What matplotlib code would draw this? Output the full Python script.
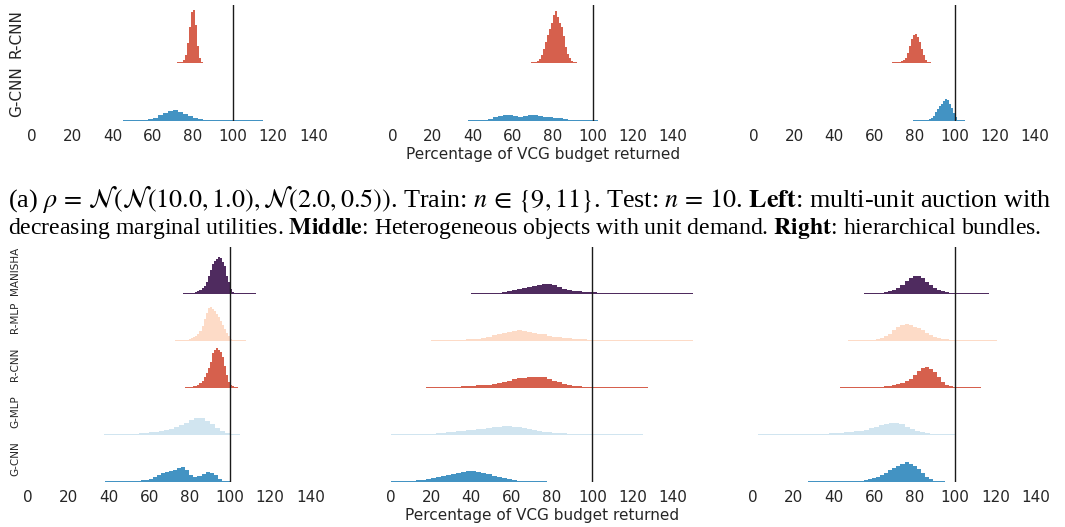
import numpy as np
import matplotlib
matplotlib.use("Agg")
import matplotlib.pyplot as plt

# ---------------- data (histogram heights, arbitrary density units) ----------------
# each entry: (first bin edge, bin width, bar heights)
methods_top = ["G-CNN", "R-CNN"]
methods_bottom = ["G-CNN", "G-MLP", "R-CNN", "R-MLP", "MANISHA"]
x_ticks = [0, 20, 40, 60, 80, 100, 120, 140]
vcg_reference = 100

# (a) top row
a_left_gcnn = (45.0, 2.5, [1.0, 1.0, 1.0, 1.0, 1.2, 2.0, 3.5, 6, 8.5, 10.5, 11.5, 9.5, 7.5, 5.5,
                           3.5, 2.2, 1.4, 1.1, 1.0, 1.0, 1.0, 1.0, 1.0, 1.0, 1.0, 1.0, 1.0, 1.0])
a_left_rcnn = (72.0, 1.0, [1.0, 1.0, 1.5, 3, 8, 20, 36, 51, 53, 38, 17, 5, 1.5])
a_mid_gcnn = (37.5, 2.5, [1.0, 1.0, 1.0, 1.3, 2.2, 3.6, 4.8, 5.6, 5.7, 5.0, 4.5, 4.7, 5.6, 5.8,
                          5.0, 4.3, 3.8, 3.5, 2.6, 1.6, 1.2, 1.0, 1.0, 1.0, 1.0, 1.0])
a_mid_rcnn = (69.0, 1.0, [1.0, 1.0, 1.2, 2, 4, 8, 14, 21, 28, 34, 40, 48, 52, 46, 40, 36, 27, 16,
                          9, 5, 2.5, 1.2, 1.0])
a_right_gcnn = (79.0, 1.0, [1.0, 1.0, 1.0, 1.0, 1.0, 1.0, 1.0, 1.2, 2, 3, 5, 9, 12, 15, 17, 20,
                            22, 21, 17, 13, 8, 4, 1.5, 1.0, 1.0, 1.0])
a_right_rcnn = (69.0, 1.0, [1.0, 1.0, 1.0, 1.2, 2, 3, 5, 10, 17, 24, 28, 29, 26, 21, 14, 8, 3.5,
                            1.5, 1.0])

# (b) bottom row
b_left_gcnn = (38.0, 2.0, [1.0, 1.0, 1.0, 1.0, 1.0, 1.0, 1.0, 1.0, 1.0, 1.3, 1.8, 3, 5, 6.8, 8.5,
                           10, 11, 11.8, 13.5, 14.4, 12, 7, 5, 6, 8, 10, 8.5, 6.5, 3, 1.2, 1.0])
b_left_gmlp = (37.5, 2.5, [1.0, 1.0, 1.0, 1.0, 1.0, 1.0, 1.2, 1.5, 2.0, 2.6, 3.2, 4.0, 5.0, 6.2,
                           7.6, 9.5, 12, 14.5, 16.5, 17, 14, 11, 7, 4, 2, 1.2, 1.0])
b_left_rcnn = (78.0, 1.0, [1.0, 1.0, 1.0, 1.0, 1.5, 2.2, 3.2, 4.5, 7, 11, 15, 20, 26, 35, 38, 40,
                           38, 36, 31, 22, 13, 6, 2.5, 1.5, 1.2, 1.0])
b_left_rmlp = (73.0, 1.0, [1.0, 1.0, 1.0, 1.0, 1.0, 1.2, 1.5, 2, 2.8, 3.8, 5, 7, 10, 15, 22, 28,
                           33, 34, 32, 30, 27, 24, 20, 16, 12, 8, 5, 2.5, 1.5, 1.0, 1.0, 1.0, 1.0,
                           1.0, 1.0])
b_left_manisha = (77.0, 1.0, [1.0, 1.0, 1.0, 1.0, 1.0, 1.3, 2, 3, 4.5, 6, 8, 12, 18, 24, 30, 33,
                              35, 37, 36, 32, 28, 18, 12, 5, 2.5, 1.3, 1.0, 1.0, 1.0, 1.0, 1.0,
                              1.0, 1.0, 1.0, 1.0, 1.0])

b_mid_gcnn = (0.0, 2.5, [1.0, 1.0, 1.0, 1.0, 1.1, 1.5, 2.0, 2.7, 3.5, 4.5, 5.6, 6.6, 7.8, 9.0,
                         10.0, 10.7, 10.5, 9.8, 9.0, 7.5, 5.8, 4.5, 3.3, 2.4, 1.6, 1.2, 1.0, 1.0,
                         1.0, 1.0, 1.0])
b_mid_gmlp = (0.0, 2.5, [1.0, 1.0, 1.0, 1.0, 1.0, 1.0, 1.0, 1.1, 1.3, 1.6, 2.0, 2.5, 3.0, 3.5,
                         4.0, 4.5, 5.2, 5.7, 6.3, 7.0, 7.6, 8.2, 8.7, 8.5, 8.0, 7.5, 7.0, 6.0, 5.0,
                         4.0, 3.2, 2.6, 2.1, 1.7, 1.4, 1.2, 1.1, 1.0, 1.0, 1.0, 1.0, 1.0, 1.0,
                         1.0, 1.0, 1.0, 1.0, 1.0, 1.0, 1.0])
b_mid_rcnn = (17.5, 2.5, [1.0, 1.0, 1.0, 1.0, 1.0, 1.1, 1.2, 1.5, 1.8, 2.2, 2.6, 3.0, 3.4, 4.0,
                          4.7, 5.5, 7.0, 8.5, 9.5, 10.2, 10.7, 10.5, 10.8, 11, 9, 7, 5.5, 4.2,
                          3.2, 2.4, 1.8, 1.4, 1.2, 1.1, 1.0, 1.0, 1.0, 1.0, 1.0, 1.0, 1.0, 1.0,
                          1.0, 1.0])
b_mid_rmlp = (20.0, 2.5, [1.0, 1.0, 1.0, 1.0, 1.0, 1.0, 1.2, 1.6, 2.0, 2.5, 3.2, 4.2, 6.0, 7.0,
                          8.0, 9.0, 10, 10.7, 10.2, 9.3, 8.3, 7.3, 6.8, 5.5, 4.3, 3.6, 3.0, 2.6,
                          2.3, 2.0, 1.7, 1.5, 1.3, 1.2, 1.1, 1.0, 1.0, 1.0, 1.0, 1.0, 1.0, 1.0,
                          1.0, 1.0, 1.0, 1.0, 1.0, 1.0, 1.0, 1.0, 1.0, 1.0])
b_mid_manisha = (40.0, 2.5, [1.0, 1.0, 1.0, 1.0, 1.2, 1.5, 2.0, 2.8, 3.8, 4.8, 5.8, 7.0, 8.0, 9.2,
                             10, 9.8, 8.8, 7.0, 5.6, 4.5, 3.6, 3.0, 2.5, 2.1, 1.8, 1.6, 1.4, 1.3,
                             1.2, 1.1, 1.0, 1.0, 1.0, 1.0, 1.0, 1.0, 1.0, 1.0, 1.0, 1.0, 1.0, 1.0,
                             1.0, 1.0])

b_right_gcnn = (27.0, 2.0, [1.0, 1.0, 1.0, 1.0, 1.0, 1.0, 1.0, 1.0, 1.0, 1.0, 1.0, 1.0, 1.0, 1.2,
                            1.8, 2.6, 3.6, 5.0, 6.8, 9.0, 11.5, 14, 15.5, 17.5, 19.3, 18, 16, 13,
                            9, 5, 2.6, 1.2, 1.0, 1.0])
b_right_gmlp = (2.5, 2.5, [1.0, 1.0, 1.0, 1.0, 1.0, 1.0, 1.0, 1.0, 1.0, 1.0, 1.0, 1.0, 1.1, 1.2,
                           1.4, 1.7, 2.0, 2.4, 2.9, 3.5, 4.3, 5.3, 6.4, 7.8, 9.4, 11, 12, 11.6,
                           10.5, 8.0, 5.5, 4.0, 2.6, 1.6, 1.2, 1.0, 1.0, 1.0, 1.0])
b_right_rcnn = (43.0, 2.0, [1.0, 1.0, 1.0, 1.0, 1.0, 1.0, 1.0, 1.0, 1.0, 1.1, 1.3, 1.6, 2.0, 2.7,
                            3.6, 5.0, 6.5, 8.5, 13, 17.3, 20, 21, 19, 15.5, 10.5, 6, 3, 1.8, 1.2,
                            1.0, 1.0, 1.0, 1.0, 1.0, 1.0])
b_right_rmlp = (47.0, 2.0, [1.0, 1.0, 1.0, 1.0, 1.0, 1.0, 1.5, 2.3, 3.5, 5.0, 7.5, 11, 14, 16,
                            16.7, 16, 14.5, 13, 11, 8, 6, 4.3, 3.2, 2.2, 1.6, 1.2, 1.0, 1.0, 1.0,
                            1.0, 1.0, 1.0, 1.0, 1.0, 1.0, 1.0, 1.0])
b_right_manisha = (55.0, 2.0, [1.0, 1.0, 1.0, 1.0, 1.2, 1.8, 2.8, 4.2, 6.5, 9.5, 13, 16, 18, 18.3,
                               16, 12.5, 9, 6, 4.3, 3.2, 2.2, 1.5, 1.2, 1.0, 1.0, 1.0, 1.0, 1.0,
                               1.0, 1.0, 1.0])

caption_line1 = (r"(a) $\rho\,=\,\mathcal{N}(\mathcal{N}(10.0, 1.0), \mathcal{N}(2.0, 0.5))$. "
                 r"Train: $n\,\in\,\{9, 11\}$. Test: $n\,=\,10$. $\mathbf{Left}$: multi-unit auction with")
caption_line2 = (r"decreasing marginal utilities. $\mathbf{Middle}$: Heterogeneous objects with unit "
                 r"demand. $\mathbf{Right}$: hierarchical bundles.")
x_label = "Percentage of VCG budget returned"

# ---------------- styling ----------------
colors = {"G-CNN": "#4393c3", "G-MLP": "#d1e5f0", "R-CNN": "#d6604d",
          "R-MLP": "#fddbc7", "MANISHA": "#4f2b5f"}
TXT = "#262626"
W, H = 1065, 527
plt.rcParams["mathtext.fontset"] = "stix"
fig = plt.figure(figsize=(W / 100, H / 100), dpi=100)


def make_ax(left_px, top_px, bottom_px, scale, tick_pad):
    width_px = 150 * scale
    ax = fig.add_axes([left_px / W, 1 - bottom_px / H, width_px / W, (bottom_px - top_px) / H])
    ax.set_xlim(0, 150)
    for s in ax.spines.values():
        s.set_visible(False)
    ax.set_xticks(x_ticks)
    ax.set_xticklabels([str(t) for t in x_ticks])
    ax.tick_params(axis="x", length=0, pad=tick_pad, labelsize=11, labelcolor=TXT)
    ax.tick_params(axis="y", length=0)
    ax.patch.set_alpha(0)
    return ax


def ridge(ax, dists, methods, row_h, label_size, show_labels):
    for i, (m, (start, width, h)) in enumerate(zip(methods, dists)):
        h = np.asarray(h, float)
        edges = start + width * np.arange(len(h) + 1)
        off = i * row_h
        ax.stairs(h + off, edges, baseline=off, fill=True, color=colors[m], lw=0, zorder=2)
    ax.set_ylim(0, row_h * len(methods))
    ax.axvline(vcg_reference, color="#1a1a1a", lw=1.0, zorder=5)
    if show_labels:
        ax.set_yticks([(i + 0.5) * row_h for i in range(len(methods))])
        ax.set_yticklabels(methods, rotation=90, va="center", fontsize=label_size, color=TXT)
    else:
        ax.set_yticks([])


ROW_TOP = 58.0
ROW_BOT = 46.9
top_specs = [(32.3, 2.007, [a_left_gcnn, a_left_rcnn]),
             (393.0, 2.0, [a_mid_gcnn, a_mid_rcnn]),
             (754.0, 2.007, [a_right_gcnn, a_right_rcnn])]
bot_specs = [(28.3, 2.014, [b_left_gcnn, b_left_gmlp, b_left_rcnn, b_left_rmlp, b_left_manisha]),
             (390.7, 2.016, [b_mid_gcnn, b_mid_gmlp, b_mid_rcnn, b_mid_rmlp, b_mid_manisha]),
             (753.0, 2.02, [b_right_gcnn, b_right_gmlp, b_right_rcnn, b_right_rmlp, b_right_manisha])]

for k, (lp, sc, d) in enumerate(top_specs):
    ax = make_ax(lp, 121 - 2 * ROW_TOP, 121, sc, 6)
    ridge(ax, d, methods_top, ROW_TOP, 11, k == 0)
    if k == 0:
        ax.tick_params(axis="y", pad=6)
    if k == 1:
        ax.set_xlabel(x_label, fontsize=11, color=TXT, labelpad=2)

for k, (lp, sc, d) in enumerate(bot_specs):
    ax = make_ax(lp, 481.7 - 5 * ROW_BOT, 481.7, sc, 6)
    ridge(ax, d, methods_bottom, ROW_BOT, 7.5, k == 0)
    if k == 0:
        ax.tick_params(axis="y", pad=6)
    if k == 1:
        ax.set_xlabel(x_label, fontsize=11, color=TXT, labelpad=2)

# caption, each line fitted to its width in the reference
fs = 15.5
t1 = fig.text(8 / W, 1 - 207 / H, caption_line1, fontsize=fs, family="Liberation Serif",
              ha="left", va="baseline", color="black")
t2 = fig.text(8 / W, 1 - 234 / H, caption_line2, fontsize=fs, family="Liberation Serif",
              ha="left", va="baseline", color="black")
r = fig.canvas.get_renderer()
for t, target in ((t1, 1045.0), (t2, 1034.0)):
    w = t.get_window_extent(r).width
    t.set_fontsize(fs * target / w)

fig.savefig("out.png", dpi=100)
